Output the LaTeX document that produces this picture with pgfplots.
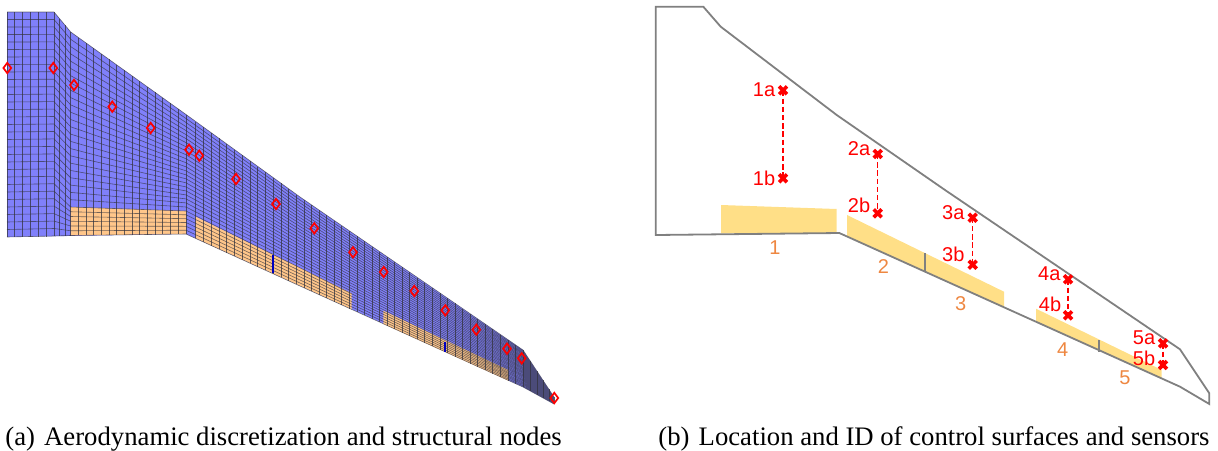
\documentclass[border=0pt]{standalone}
\usepackage{pgfplots}
\pgfplotsset{compat=1.18}
\usepackage{fontspec}
\setmainfont{Liberation Serif}
\newfontfamily\arialf{Liberation Sans}
\definecolor{wingblue}{RGB}{128,128,250}
\definecolor{wingorange}{RGB}{255,198,138}
\definecolor{flapyellow}{RGB}{255,223,135}
\definecolor{outl}{RGB}{128,128,128}
\definecolor{numor}{RGB}{238,135,65}
\definecolor{meshc}{RGB}{50,50,60}
\begin{document}
\begin{tikzpicture}
\begin{axis}[
  scale only axis, width=609pt, height=225pt,
  xmin=0, xmax=1218, ymin=0, ymax=450, y dir=reverse,
  axis lines=none, clip=false, unbounded coords=jump,
]
% (a) wing fills
\addplot[fill=wingblue,draw=none] coordinates {(7,12)(54,12)(70.7,32)(186,114.5)(300,197)(523,350)(554,397)(554,404)(523,387)(186,234)(7,237)} -- cycle;
\addplot[fill=wingorange,draw=none] coordinates {(70.7,207)(186,211)(186,234)(70.7,235.5)} -- cycle;
\addplot[fill=wingorange,draw=none] coordinates {(195.7,216.7)(351.7,293.3)(351.7,309.3)(195.7,238.4)} -- cycle;
\addplot[fill=wingorange,draw=none] coordinates {(383.3,310.7)(508.3,370)(508.3,380.7)(383.3,324)} -- cycle;
% (a) spanwise mesh lines
\addplot[draw=meshc,line width=0.3pt,opacity=0.68] coordinates {
(7,12)(54,12)(70.7,32)(186,114.5)(300,197)(523,350)(554,397)(nan,nan)
(7,19.5)(54,19.5)(70.7,39.3)(186,118.5)(300,200)(523,351.2)(554,397.2)(nan,nan)
(7,27)(54,26.9)(70.7,46.6)(186,122.5)(300,202.9)(523,352.5)(554,397.5)(nan,nan)
(7,34.5)(54,34.4)(70.7,53.9)(186,126.6)(300,205.9)(523,353.7)(554,397.7)(nan,nan)
(7,42)(54,41.9)(70.7,61.2)(186,130.6)(300,208.8)(523,354.9)(554,397.9)(nan,nan)
(7,49.5)(54,49.3)(70.7,68.5)(186,134.6)(300,211.8)(523,356.2)(554,398.2)(nan,nan)
(7,57)(54,56.8)(70.7,75.7)(186,138.6)(300,214.7)(523,357.4)(554,398.4)(nan,nan)
(7,64.5)(54,64.3)(70.7,83)(186,142.6)(300,217.7)(523,358.6)(554,398.6)(nan,nan)
(7,72)(54,71.7)(70.7,90.3)(186,146.7)(300,220.6)(523,359.9)(554,398.9)(nan,nan)
(7,79.5)(54,79.2)(70.7,97.6)(186,150.7)(300,223.6)(523,361.1)(554,399.1)(nan,nan)
(7,87)(54,86.7)(70.7,104.9)(186,154.7)(300,226.5)(523,362.3)(554,399.3)(nan,nan)
(7,94.5)(54,94.1)(70.7,112.2)(186,158.7)(300,229.5)(523,363.6)(554,399.6)(nan,nan)
(7,102)(54,101.6)(70.7,119.5)(186,162.7)(300,232.4)(523,364.8)(554,399.8)(nan,nan)
(7,109.5)(54,109.1)(70.7,126.8)(186,166.8)(300,235.4)(523,366)(554,400)(nan,nan)
(7,117)(54,116.5)(70.7,134.1)(186,170.8)(300,238.4)(523,367.3)(554,400.3)(nan,nan)
(7,124.5)(54,124)(70.7,141.4)(186,174.8)(300,241.3)(523,368.5)(554,400.5)(nan,nan)
(7,132)(54,131.5)(70.7,148.6)(186,178.8)(300,244.3)(523,369.7)(554,400.7)(nan,nan)
(7,139.5)(54,138.9)(70.7,155.9)(186,182.8)(300,247.2)(523,371)(554,401)(nan,nan)
(7,147)(54,146.4)(70.7,163.2)(186,186.9)(300,250.2)(523,372.2)(554,401.2)(nan,nan)
(7,154.5)(54,153.9)(70.7,170.5)(186,190.9)(300,253.1)(523,373.4)(554,401.4)(nan,nan)
(7,162)(54,161.3)(70.7,177.8)(186,194.9)(300,256.1)(523,374.7)(554,401.7)(nan,nan)
(7,169.5)(54,168.8)(70.7,185.1)(186,198.9)(300,259)(523,375.9)(554,401.9)(nan,nan)
(7,177)(54,176.3)(70.7,192.4)(186,202.9)(300,262)(523,377.1)(554,402.1)(nan,nan)
(7,184.5)(54,183.7)(70.7,199.7)(186,207)(300,264.9)(523,378.4)(554,402.4)(nan,nan)
(7,192)(54,191.2)(70.7,207)(186,211)(300,267.9)(523,379.6)(554,402.6)(nan,nan)
(7,199.5)(54,198.7)(70.7,211.75)(186,214.8)(300,270.9)(523,380.8)(554,402.8)(nan,nan)
(7,207)(54,206.1)(70.7,216.5)(186,218.7)(300,273.9)(523,382.1)(554,403.1)(nan,nan)
(7,214.5)(54,213.6)(70.7,221.25)(186,222.5)(300,276.9)(523,383.3)(554,403.3)(nan,nan)
(7,222)(54,221.1)(70.7,226)(186,226.3)(300,280)(523,384.5)(554,403.5)(nan,nan)
(7,229.5)(54,228.5)(70.7,230.75)(186,230.2)(300,283)(523,385.8)(554,403.8)(nan,nan)
(7,237)(54,236)(70.7,235.5)(186,234)(300,286)(523,387)(554,404)
};
% (a) chordwise mesh lines
\addplot[draw=meshc,line width=0.42pt,opacity=0.75] coordinates {
(7,12)(7,237)(nan,nan)(14.8,12)(14.8,237)(nan,nan)(22.7,12)(22.7,237)(nan,nan)(30.5,12)(30.5,237)(nan,nan)
(38.3,12)(38.3,236.5)(nan,nan)(46.2,12)(46.2,236.5)(nan,nan)(54,12)(54,236)(nan,nan)
(59.5,18.6)(59.5,236)(nan,nan)(65,25.2)(65,235.7)(nan,nan)(70.7,32)(70.7,235.5)(nan,nan)
(78.4,37.5)(78.4,235.4)(nan,nan)(86,42.9)(86,235.3)(nan,nan)(93.7,48.4)(93.7,235.2)(nan,nan)
(101.4,53.9)(101.4,235.1)(nan,nan)(109,59.4)(109,235)(nan,nan)(116.7,64.9)(116.7,235)(nan,nan)
(124.4,70.4)(124.4,234.9)(nan,nan)(132,75.8)(132,234.8)(nan,nan)(139.7,81.3)(139.7,234.7)(nan,nan)
(147.4,86.8)(147.4,234.6)(nan,nan)(155,92.2)(155,234.5)(nan,nan)(162.7,97.7)(162.7,234.4)(nan,nan)
(170.4,103.2)(170.4,234.3)(nan,nan)(178,108.6)(178,234.1)(nan,nan)(186,114.5)(186,234)(nan,nan)
(195.7,121.5)(195.7,238.4)(nan,nan)(203.5,127.2)(203.5,242)(nan,nan)(211.2,132.7)(211.2,245.5)(nan,nan)
(219,138.4)(219,249)(nan,nan)(226.7,143.9)(226.7,252.6)(nan,nan)(234.5,149.6)(234.5,256.1)(nan,nan)
(242.3,155.2)(242.3,259.7)(nan,nan)(250,160.8)(250,263.2)(nan,nan)(257.8,166.5)(257.8,266.7)(nan,nan)
(265.5,172)(265.5,270.3)(nan,nan)(273.3,177.7)(273.3,273.8)(nan,nan)(281,183.3)(281,277.3)(nan,nan)
(288.8,188.9)(288.8,280.9)(nan,nan)(296.6,194.5)(296.6,284.4)(nan,nan)(304.1,199.8)(304.1,287.8)(nan,nan)
(311.7,205)(311.7,291.3)(nan,nan)(319.2,210.2)(319.2,294.7)(nan,nan)(326.8,215.4)(326.8,298.2)(nan,nan)
(334.3,220.5)(334.3,301.6)(nan,nan)(341.9,225.7)(341.9,305)(nan,nan)(349.4,230.9)(349.4,308.5)(nan,nan)
(357,236.1)(357,311.9)(nan,nan)(364.5,241.2)(364.5,315.3)(nan,nan)(372.1,246.5)(372.1,318.8)(nan,nan)
(379.6,251.6)(379.6,322.2)(nan,nan)(387.2,256.8)(387.2,325.7)(nan,nan)(394.7,262)(394.7,329.1)(nan,nan)
(402.3,267.2)(402.3,332.5)(nan,nan)(409.8,272.3)(409.8,336)(nan,nan)(417.4,277.5)(417.4,339.4)(nan,nan)
(424.9,282.7)(424.9,342.9)(nan,nan)(432.5,287.9)(432.5,346.3)(nan,nan)(440,293)(440,349.7)(nan,nan)
(447.6,298.2)(447.6,353.2)(nan,nan)(455.1,303.4)(455.1,356.6)(nan,nan)(462.7,308.6)(462.7,360.1)(nan,nan)
(470.2,313.8)(470.2,363.5)(nan,nan)(477.8,319)(477.8,367)(nan,nan)(485.3,324.1)(485.3,370.4)(nan,nan)
(492.9,329.3)(492.9,373.8)(nan,nan)(500.4,334.5)(500.4,377.3)(nan,nan)(508,339.7)(508,380.7)(nan,nan)
(515.5,344.8)(515.5,384.1)(nan,nan)(523,350)(523,387)(nan,nan)
(530,360.6)(530,390.8)(nan,nan)(537,371.2)(537,394.7)(nan,nan)(543,380.3)(543,398)(nan,nan)
(549,389.4)(549,401.2)(nan,nan)(554,397)(554,404)
};
% (a) blue separators between flaps
\addplot[draw=blue!75!black,line width=0.7pt] coordinates {(273,255)(273,273)(nan,nan)(445,341.5)(445,352)};
% (a) structural nodes
\addplot[only marks,mark=diamond,mark size=2.6pt,draw=red,mark options={line width=0.85pt,draw=red,fill=none,solid}] coordinates {
(7.3,68)(53.3,68)(74,85)(112.3,106.7)(150.7,128)(189,149.7)(199.3,155.7)(236,179)(276,204)(314.3,228.3)(353,252.3)(383.7,272)(414.3,291)(445.3,310.3)(476.3,329.7)(507,348.7)(521.7,358.3)(554.3,398)};
% (b) flaps
\addplot[fill=flapyellow,draw=none] coordinates {(721,205)(836.7,209)(836.7,232.7)(721,233.3)} -- cycle;
\addplot[fill=flapyellow,draw=none] coordinates {(847,215)(1004,291.7)(1004,307)(847,236.5)} -- cycle;
\addplot[fill=flapyellow,draw=none] coordinates {(1036,308.7)(1161.7,370)(1161.7,378.3)(1036,321.6)} -- cycle;
% (b) outline
\addplot[draw=outl,line width=0.9pt,line join=miter] coordinates {(655.7,6.7)(703.3,6.7)(720.7,26.7)(836.7,115)(945,190)(1180,349.3)(1209.3,393.3)(1209.3,404)(1180,386.7)(839.3,233)(655.7,235)} -- cycle;
\addplot[draw=outl,line width=0.7pt] coordinates {(925,253.3)(925,271.7)(nan,nan)(1099,340)(1099,351.7)};
% (b) sensors
\addplot[draw=red,line width=0.65pt,dash pattern=on 2.7pt off 1.4pt] coordinates {(783,90.3)(783,178.3)(nan,nan)(877.7,154)(877.7,213.3)(nan,nan)(972.7,217.7)(972.7,264.7)(nan,nan)(1068,279.3)(1068,315.3)(nan,nan)(1163,343.3)(1163,365)};
\addplot[only marks,mark=x,mark size=2.8pt,mark options={draw=red,line width=1.8pt,solid}] coordinates {(783,90.3)(783,178.3)(877.7,154)(877.7,213.3)(972.7,217.7)(972.7,264.7)(1068,279.3)(1068,315.3)(1163,343.3)(1163,365)};
% labels
\begin{scope}[every node/.style={inner sep=0pt,text=red,font=\arialf\fontsize{10pt}{12pt}\selectfont}]
\node at (axis cs:764,89.3) {1a};
\node at (axis cs:764,178.3) {1b};
\node at (axis cs:859,148.3) {2a};
\node at (axis cs:859,205) {2b};
\node at (axis cs:953.3,212.3) {3a};
\node at (axis cs:953.3,254.3) {3b};
\node at (axis cs:1049.3,273.3) {4a};
\node at (axis cs:1050,304) {4b};
\node at (axis cs:1144,337.7) {5a};
\node at (axis cs:1144,358.3) {5b};
\end{scope}
\begin{scope}[every node/.style={inner sep=0pt,text=numor,font=\arialf\fontsize{10pt}{12pt}\selectfont}]
\node at (axis cs:775,247.3) {1};
\node at (axis cs:883.3,266.7) {2};
\node at (axis cs:960.7,303.3) {3};
\node at (axis cs:1062.7,350) {4};
\node at (axis cs:1125,377.7) {5};
\end{scope}
\node[anchor=base west,inner sep=0pt,font=\fontsize{13.35pt}{15pt}\selectfont] at (axis cs:5,445) {(a)\hspace{4.6pt}Aerodynamic discretization and structural nodes};
\node[anchor=base west,inner sep=0pt,font=\fontsize{13.35pt}{15pt}\selectfont] at (axis cs:658,445) {(b)\hspace{4.6pt}Location and ID of control surfaces and sensors};
\end{axis}
\path[use as bounding box] (0,0) rectangle (609pt,225pt);
\end{tikzpicture}
\end{document}
